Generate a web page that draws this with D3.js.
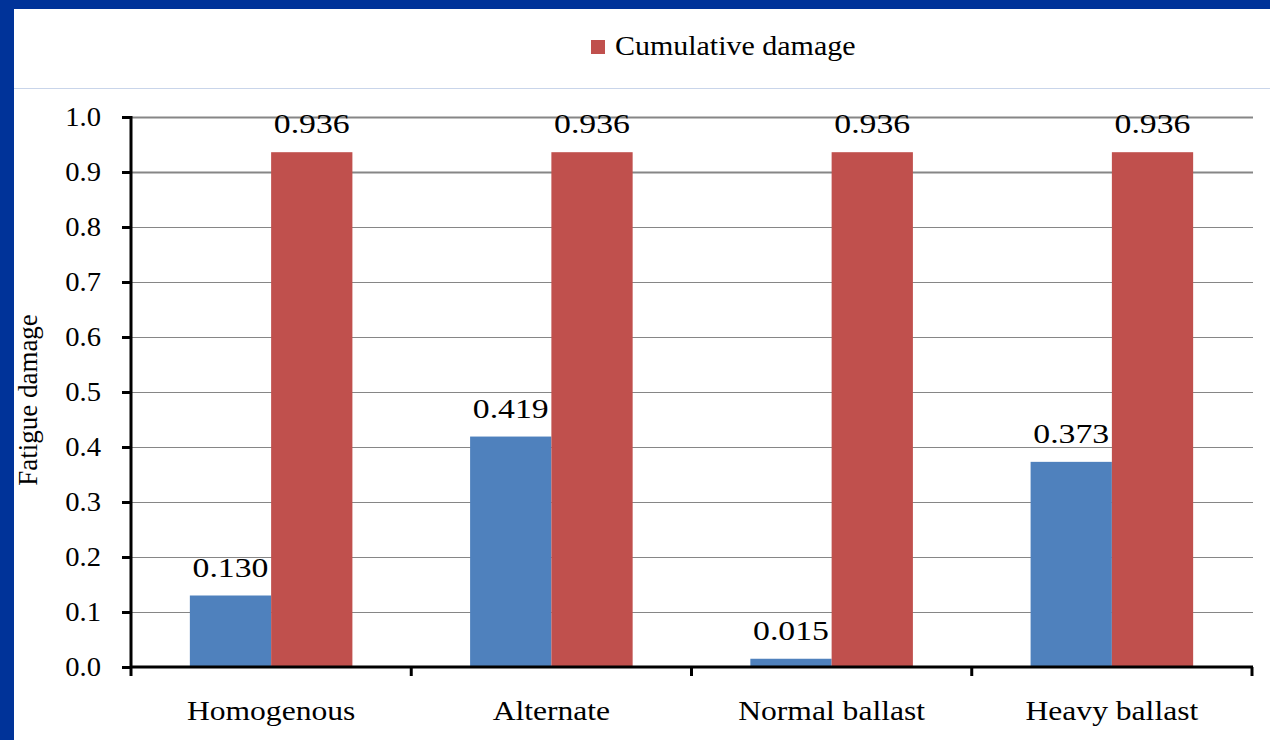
<!DOCTYPE html>
<html>
<head>
<meta charset="utf-8">
<script src="https://cdn.jsdelivr.net/npm/d3@7"></script>
<style>
  html, body { margin: 0; padding: 0; background: #ffffff; }
  svg { display: block; }
</style>
</head>
<body>
<svg id="chart" width="1270" height="740"></svg>
<script>
const categories = ["Homogenous", "Alternate", "Normal ballast", "Heavy ballast"];
const seriesNames = ["Damage", "Cumulative damage"];
const damageValues = [0.130, 0.419, 0.015, 0.373];
const cumulativeValues = [0.936, 0.936, 0.936, 0.936];
const yTicks = [0.0, 0.1, 0.2, 0.3, 0.4, 0.5, 0.6, 0.7, 0.8, 0.9, 1.0];
const legendItems = ["Cumulative damage"];
const yTitle = "Fatigue damage";

const colors = { "Damage": "#4f81bd", "Cumulative damage": "#c0504d" };
const FONT = "Liberation Serif";

const svg = d3.select("#chart");

// background and frame
svg.append("rect").attr("x", 0).attr("y", 0).attr("width", 1270).attr("height", 740).attr("fill", "#ffffff");
svg.append("rect").attr("x", 0).attr("y", 0).attr("width", 1270).attr("height", 9).attr("fill", "#003399");
svg.append("rect").attr("x", 0).attr("y", 0).attr("width", 14).attr("height", 740).attr("fill", "#003399");
svg.append("line").attr("x1", 14).attr("x2", 1270).attr("y1", 88.5).attr("y2", 88.5)
  .attr("stroke", "#c9d5ea").attr("stroke-width", 1);

const pLeft = 131, pRight = 1252, pTop = 117, pBottom = 667;

const x0 = d3.scaleBand().domain(categories).range([pLeft, pRight]).padding(0);
const bw = x0.bandwidth();
const x1 = d3.scaleBand().domain(seriesNames).range([bw * 0.21, bw * 0.79]).padding(0);
const y = d3.scaleLinear().domain([0, 1]).range([pBottom, pTop]);

// gridlines
const grid = svg.append("g");
yTicks.filter(t => t > 0).forEach(t => {
  grid.append("line")
    .attr("x1", pLeft).attr("x2", pRight + 1)
    .attr("y1", Math.round(y(t)) + 0.5).attr("y2", Math.round(y(t)) + 0.5)
    .attr("stroke", "#868686")
    .attr("stroke-width", t >= 0.85 ? 2 : 1);
});

// bars
const data = categories.map((c, i) => ({ cat: c, vals: [
  { s: "Damage", v: damageValues[i] },
  { s: "Cumulative damage", v: cumulativeValues[i] }
]}));

const groups = svg.append("g").selectAll("g").data(data).join("g")
  .attr("transform", d => `translate(${x0(d.cat)},0)`);

groups.selectAll("rect").data(d => d.vals).join("rect")
  .attr("x", d => x1(d.s))
  .attr("width", x1.bandwidth())
  .attr("y", d => y(d.v))
  .attr("height", d => y(0) - y(d.v))
  .attr("fill", d => colors[d.s]);

groups.selectAll("text.val").data(d => d.vals).join("text")
  .attr("class", "val")
  .attr("x", 0).attr("y", 0)
  .attr("transform", d => `translate(${x1(d.s) + x1.bandwidth() / 2},${y(d.v) - 19}) scale(1.25,1)`)
  .attr("text-anchor", "middle")
  .attr("font-family", FONT)
  .attr("font-size", 27)
  .attr("fill", "#000")
  .text(d => d.v.toFixed(3));

// y axis
const yAxis = d3.axisLeft(y).tickValues(yTicks).tickFormat(d3.format(".1f")).tickSize(9).tickPadding(21);
const yg = svg.append("g").attr("transform", `translate(${pLeft},0)`).call(yAxis);
yg.attr("font-family", FONT).attr("font-size", 27);
yg.select(".domain").attr("stroke", "#000").attr("stroke-width", 3).attr("d", `M0,${pTop - 1}V${pBottom + 1}`);
yg.selectAll(".tick line").attr("stroke", "#000").attr("stroke-width", 3);
yg.selectAll(".tick text")
  .attr("x", 0)
  .attr("transform", "translate(-30,0) scale(1.06,1)")
  .attr("font-family", FONT)
  .attr("font-size", 27)
  .attr("fill", "#000");

// x axis
const xAxis = d3.axisBottom(x0).tickSize(0).tickPadding(0);
const xg = svg.append("g").attr("transform", `translate(0,${pBottom})`).call(xAxis);
xg.attr("font-family", FONT).attr("font-size", 27);
xg.select(".domain").attr("stroke", "#000").attr("stroke-width", 3).attr("d", `M${pLeft - 1},0H${pRight + 1}`);
xg.selectAll(".tick text")
  .attr("y", 0)
  .attr("dy", 0)
  .attr("transform", "translate(0,53) scale(1.17,1)")
  .attr("font-family", FONT)
  .attr("font-size", 27)
  .attr("fill", "#000");
const boundaries = categories.map(c => x0(c)).concat([pRight]);
xg.selectAll("line.bound").data(boundaries).join("line")
  .attr("class", "bound")
  .attr("x1", d => d).attr("x2", d => d)
  .attr("y1", 0).attr("y2", 9)
  .attr("stroke", "#000").attr("stroke-width", 3);

// y title
svg.append("text")
  .attr("transform", `translate(37,${(pTop + pBottom) / 2 + 8}) rotate(-90)`)
  .attr("text-anchor", "middle")
  .attr("font-family", FONT)
  .attr("font-size", 27)
  .attr("fill", "#000")
  .text(yTitle);

// legend
const lg = svg.append("g").attr("transform", "translate(591,40)");
legendItems.forEach((name, i) => {
  lg.append("rect").attr("x", 0).attr("y", 0).attr("width", 14).attr("height", 14).attr("fill", colors[name]);
  lg.append("text").attr("x", 0).attr("y", 0)
    .attr("transform", "translate(24,15) scale(1.11,1)")
    .attr("font-family", FONT)
    .attr("font-size", 27)
    .attr("fill", "#000")
    .text(name);
});
</script>
</body>
</html>
